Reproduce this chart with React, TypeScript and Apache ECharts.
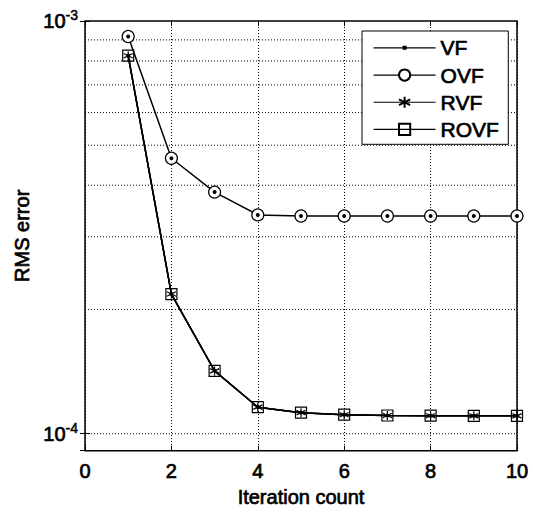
import React, { useEffect, useRef } from "react";
import * as echarts from "echarts";

const iterations = [1, 2, 3, 4, 5, 6, 7, 8, 9, 10];
const vf = [8.24e-4, 2.18e-4, 1.42e-4, 1.16e-4, 1.125e-4, 1.112e-4, 1.107e-4, 1.106e-4, 1.105e-4, 1.105e-4];
const ovf = [9.17e-4, 4.65e-4, 3.85e-4, 3.39e-4, 3.37e-4, 3.37e-4, 3.37e-4, 3.37e-4, 3.37e-4, 3.37e-4];
const rvf = [8.24e-4, 2.18e-4, 1.42e-4, 1.16e-4, 1.125e-4, 1.112e-4, 1.107e-4, 1.106e-4, 1.105e-4, 1.105e-4];
const rovf = [8.24e-4, 2.18e-4, 1.42e-4, 1.16e-4, 1.125e-4, 1.112e-4, 1.107e-4, 1.106e-4, 1.105e-4, 1.105e-4];
const yGridValues = [1e-4, 2e-4, 3e-4, 4e-4, 5e-4, 6e-4, 7e-4, 8e-4, 9e-4];
const xRange = [0, 10];
const seriesNames = ["VF", "OVF", "RVF", "ROVF"];

const FONT = "'Liberation Sans', Arial, Helvetica, sans-serif";
const ASTERISK = "path://M0,-5L0,5M-4.33,-2.5L4.33,2.5M-4.33,2.5L4.33,-2.5";
const VF_ICON = "path://M0,0M0,6.4H62V7.6H0ZM29,5H33V9H29ZM62,14";
const DOTTED = [1, 2];
const txt = { color: "#000", fontFamily: FONT, fontSize: 20, textBorderColor: "#000", textBorderWidth: 0.7 };

const pairs = (ys: number[]) => iterations.map((x, i) => [x, ys[i]]);

export default function App() {
  const ref = useRef<HTMLDivElement>(null);
  useEffect(() => {
    if (!ref.current) return;
    const chart = echarts.init(ref.current, null, { renderer: "svg" });
    const lineStyle = { color: "#000", width: 1.5 };
    const logLabel = (v: number) => {
      const e = Math.log10(v);
      if (Math.abs(e - Math.round(e)) > 1e-6) return "";
      return "{b|10}{s|" + Math.round(e) + "}";
    };
    const gridSeries = yGridValues.map((v, i) => ({
      name: "grid" + i,
      type: "line",
      data: xRange.map((x) => [x, v]),
      symbol: "none",
      silent: true,
      z: 1,
      lineStyle: { type: DOTTED, color: "#000", width: 1 },
    }));
    const option: any = {
      animation: false,
      backgroundColor: "#fff",
      grid: {
        left: 85,
        right: 16,
        top: 21,
        bottom: 58,
        show: true,
        borderColor: "#000",
        borderWidth: 1.5,
      },
      legend: {
        orient: "vertical",
        left: 362,
        top: 31,
        itemWidth: 62,
        itemHeight: 14,
        itemGap: 5.5,
        padding: [6, 9, 4, 11],
        backgroundColor: "#fff",
        borderColor: "#000",
        borderWidth: 1,
        lineStyle: { width: 1.2, color: "#000" },
        textStyle: { ...txt, fontSize: 21, lineHeight: 20 },
        data: [
          { name: "VF", icon: VF_ICON, itemStyle: { color: "#000" } },
          seriesNames[1],
          seriesNames[2],
          seriesNames[3],
        ],
      },
      xAxis: [
        {
          type: "value",
          min: 0,
          max: 10,
          interval: 2,
          axisLine: { show: false },
          axisTick: { show: true, inside: true, length: 5, lineStyle: { color: "#000" } },
          axisLabel: { ...txt, margin: 10 },
          splitLine: { show: true, lineStyle: { type: DOTTED, color: "#000", width: 1 } },
          name: "Iteration count",
          nameLocation: "middle",
          nameGap: 36,
          nameTextStyle: txt,
        },
        {
          type: "value",
          position: "top",
          min: 0,
          max: 10,
          interval: 2,
          axisLine: { show: false },
          axisTick: { show: true, inside: true, length: 5, lineStyle: { color: "#000" } },
          axisLabel: { show: false },
          splitLine: { show: false },
        },
      ],
      yAxis: [
        {
          type: "log",
          logBase: 10,
          min: 9.1e-5,
          max: 1e-3,
          axisLine: { show: false },
          axisTick: { show: true, inside: true, length: 5, lineStyle: { color: "#000" } },
          splitLine: { show: false },
          axisLabel: {
            margin: 7,
            formatter: logLabel,
            rich: {
              b: { ...txt, lineHeight: 26 },
              s: { ...txt, fontSize: 14, lineHeight: 14, verticalAlign: "top", textBorderWidth: 0.5 },
            },
          },
          name: "RMS error",
          nameLocation: "middle",
          nameGap: 53,
          nameTextStyle: txt,
        },
        {
          type: "log",
          logBase: 10,
          min: 9.1e-5,
          max: 1e-3,
          position: "right",
          axisLine: { show: false },
          axisTick: { show: true, inside: true, length: 5, lineStyle: { color: "#000" } },
          splitLine: { show: false },
          axisLabel: { show: false },
        },
      ],
      series: [
        ...gridSeries,
        {
          name: seriesNames[0],
          type: "line",
          data: pairs(vf),
          symbol: "circle",
          symbolSize: 4,
          lineStyle,
          itemStyle: { color: "#000", borderColor: "#000", borderWidth: 0 },
          z: 2,
        },
        {
          name: seriesNames[1],
          type: "line",
          data: pairs(ovf),
          symbol: "circle",
          symbolSize: 12,
          lineStyle,
          itemStyle: { color: "#fff", borderColor: "#000", borderWidth: 1.2 },
          z: 3,
        },
        {
          name: "OVF-center",
          type: "line",
          data: pairs(ovf),
          symbol: "circle",
          symbolSize: 4,
          lineStyle: { width: 0, opacity: 0 },
          itemStyle: { color: "#000" },
          z: 4,
        },
        {
          name: seriesNames[2],
          type: "line",
          data: pairs(rvf),
          symbol: ASTERISK,
          symbolSize: 9,
          lineStyle,
          itemStyle: { color: "#000", borderColor: "#000", borderWidth: 1.2 },
          z: 3,
        },
        {
          name: seriesNames[3],
          type: "line",
          data: pairs(rovf),
          symbol: "rect",
          symbolSize: 11,
          lineStyle,
          itemStyle: { color: "rgba(0,0,0,0)", borderColor: "#000", borderWidth: 1.2 },
          z: 4,
        },
      ],
    };
    chart.setOption(option);
    return () => chart.dispose();
  }, []);
  return (
    <div
      ref={ref}
      style={{ position: "absolute", left: 0, top: 0, width: 533, height: 512 }}
    />
  );
}
